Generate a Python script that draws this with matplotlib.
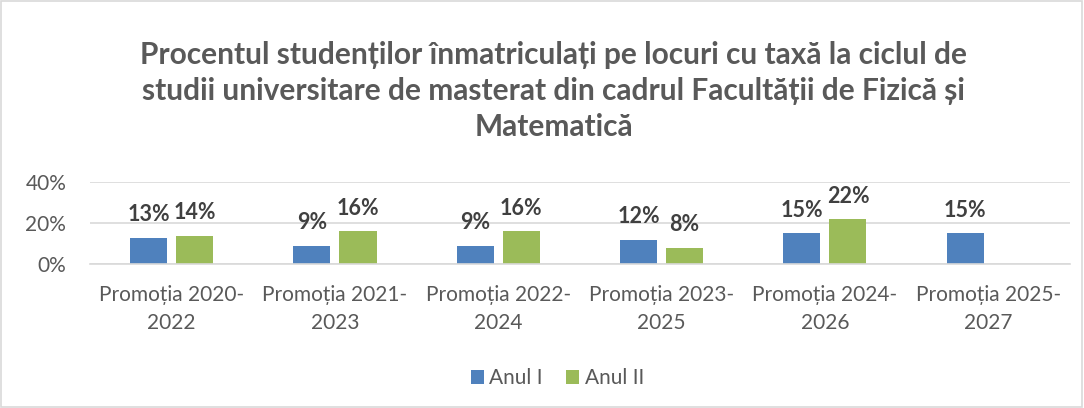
import matplotlib
matplotlib.use('Agg')
import matplotlib.pyplot as plt
import numpy as np
from matplotlib.patches import Rectangle

plt.rcParams['font.family'] = ['Lato', 'DejaVu Sans']

categories = ['Promoția 2020-\n2022', 'Promoția 2021-\n2023', 'Promoția 2022-\n2024',
              'Promoția 2023-\n2025', 'Promoția 2024-\n2026', 'Promoția 2025-\n2027']
anul_1 = [0.13, 0.09, 0.09, 0.12, 0.15, 0.15]
anul_2 = [0.14, 0.16, 0.16, 0.08, 0.22, None]
title = ('Procentul studenților înmatriculați pe locuri cu taxă la ciclul de\n'
         'studii universitare de masterat din cadrul Facultății de Fizică și\n'
         'Matematică')

blue = '#4F81BD'
green = '#9BBB59'
text_col = '#595959'
grid_col = '#D9D9D9'

fig = plt.figure(figsize=(10.84, 4.08), dpi=100)
fig.patches.append(Rectangle((0.001, 0.002), 0.997, 0.995, transform=fig.transFigure,
                             fill=False, edgecolor=grid_col, linewidth=1.2))
ax = fig.add_axes([0.083, 0.352, 0.904, 0.202])

x = np.arange(len(categories))
w = 0.227
off = 0.141
b1 = ax.bar(x - off, anul_1, w, color=blue, label='Anul I')
v2 = [v if v is not None else 0 for v in anul_2]
b2 = ax.bar(x + off, v2, w, color=green, label='Anul II')

# etichete de date deasupra barelor
for xi, v in zip(x, anul_1):
    ax.annotate(f'{v:.0%}', (xi - off, v), xytext=(0, 9), textcoords='offset points',
                ha='center', va='bottom', fontsize=15.5, fontweight='bold', color='#404040')
for xi, v in zip(x, anul_2):
    if v is None:
        continue
    ax.annotate(f'{v:.0%}', (xi + off, v), xytext=(0, 9), textcoords='offset points',
                ha='center', va='bottom', fontsize=15.5, fontweight='bold', color='#404040')

ax.set_xlim(-0.5, len(categories) - 0.5)
ax.set_ylim(0, 0.4)
ax.set_yticks([0, 0.2, 0.4])
ax.set_yticklabels(['0%', '20%', '40%'])
ax.set_xticks(x)
ax.set_xticklabels(categories, linespacing=1.5)
ax.tick_params(axis='both', length=0, labelsize=15, labelcolor=text_col)
ax.tick_params(axis='x', pad=15)
ax.tick_params(axis='y', pad=17)
ax.grid(axis='y', color=grid_col, linewidth=1.2)
ax.set_axisbelow(True)
for s in ['top', 'right', 'left']:
    ax.spines[s].set_visible(False)
ax.spines['bottom'].set_color(grid_col)
ax.spines['bottom'].set_linewidth(1.2)

fig.text(0.511, 0.90, title, ha='center', va='top', fontsize=21.5, fontweight='bold',
         color=text_col, linespacing=1.36)

fig.legend(handles=[b1, b2], loc='center', bbox_to_anchor=(0.514, 0.073), ncol=2,
           frameon=False, fontsize=15, labelcolor=text_col, handlelength=0.65,
           handleheight=0.65, handletextpad=0.25, columnspacing=1.1)

fig.savefig('out.png', dpi=100)
